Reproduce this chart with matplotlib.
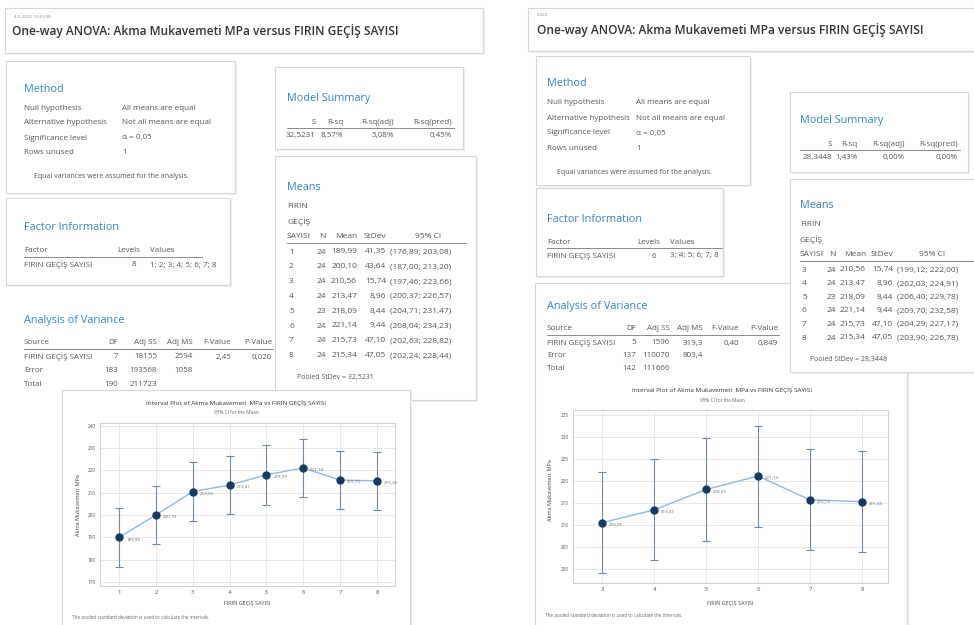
import matplotlib
matplotlib.use('Agg')
import matplotlib.pyplot as plt
from matplotlib.patches import Rectangle

# ---------------- data ----------------
# Left output (levels 1..8)
levels_a = ['1', '2', '3', '4', '5', '6', '7', '8']
n_a = [24, 24, 24, 24, 23, 24, 24, 24]
means_a = [189.99, 200.10, 210.56, 213.47, 218.09, 221.14, 215.73, 215.34]
stdev_a = [41.35, 43.64, 15.74, 8.96, 8.44, 9.44, 47.10, 47.05]
ci_low_a = [176.89, 187.00, 197.46, 200.37, 204.71, 208.04, 202.63, 202.24]
ci_high_a = [203.08, 213.20, 223.66, 226.57, 231.47, 234.23, 228.82, 228.44]
yticks_a = [170, 180, 190, 200, 210, 220, 230, 240]
model_a = ['32,5231', '8,57%', '5,08%', '0,45%']
anova_a = [['FIRIN GEÇİŞ SAYISI', '7', '18155', '2594', '2,45', '0,020'],
           ['Error', '183', '193568', '1058', '', ''],
           ['Total', '190', '211723', '', '', '']]
factor_a = ['FIRIN GEÇİŞ SAYISI', '8', '1; 2; 3; 4; 5; 6; 7; 8']
pooled_a = '32,5231'

# Right output (levels 3..8)
levels_b = ['3', '4', '5', '6', '7', '8']
n_b = [24, 24, 23, 24, 24, 24]
means_b = [210.56, 213.47, 218.09, 221.14, 215.73, 215.34]
stdev_b = [15.74, 8.96, 8.44, 9.44, 47.10, 47.05]
ci_low_b = [199.12, 202.03, 206.40, 209.70, 204.29, 203.90]
ci_high_b = [222.00, 224.91, 229.78, 232.58, 227.17, 226.78]
yticks_b = [200, 205, 210, 215, 220, 225, 230, 235]
model_b = ['28,3448', '1,43%', '0,00%', '0,00%']
anova_b = [['FIRIN GEÇİŞ SAYISI', '5', '1596', '319,3', '0,40', '0,849'],
           ['Error', '137', '110070', '803,4', '', ''],
           ['Total', '142', '111666', '', '', '']]
factor_b = ['FIRIN GEÇİŞ SAYISI', '6', '3; 4; 5; 6; 7; 8']
pooled_b = '28,3448'

TITLE = 'One-way ANOVA: Akma Mukavemeti MPa versus FIRIN GEÇİŞ SAYISI'
PLOT_TITLE = 'Interval Plot of Akma Mukavemeti  MPa vs FIRIN GEÇİŞ SAYISI'

# ---------------- layout helpers ----------------
W, H = 974, 625
fig = plt.figure(figsize=(W / 100, H / 100), dpi=100)
fig.patch.set_facecolor('white')
bg = fig.add_axes([0, 0, 1, 1])
bg.set_xlim(0, W)
bg.set_ylim(H, 0)
bg.axis('off')

FONT = ['Open Sans', 'DejaVu Sans']
TXT = '#555555'
BLUE = '#2f86c6'
FS = 5.8


def box(x0, y0, x1, y1, z=1, edge='#d6d6d6'):
    bg.add_patch(Rectangle((x0 + 2, y0 + 2), x1 - x0, y1 - y0, fc='#f1f1f1', ec='none', zorder=z - 0.5))
    bg.add_patch(Rectangle((x0, y0), x1 - x0, y1 - y0, fc='white', ec=edge, lw=0.8, zorder=z))


def t(x, y, s, size=FS, color=TXT, ha='left', weight='normal', z=10):
    bg.text(x, y, s, fontsize=size, color=color, ha=ha, va='center',
            fontweight=weight, family=FONT, zorder=z)


def hline(x0, x1, y, z=10):
    bg.plot([x0, x1], [y, y], color='#777777', lw=0.6, zorder=z)


def method_block(x, y, valx):
    t(x, y, 'Method', 7.8, BLUE)
    rows = [('Null hypothesis', 'All means are equal'),
            ('Alternative hypothesis', 'Not all means are equal'),
            ('Significance level', 'α = 0,05'),
            ('Rows unused', '1')]
    for i, (a, b) in enumerate(rows):
        yy = y + 19 + i * 15
        t(x, yy, a)
        t(valx, yy, b)
    t(x + 10, y + 88, 'Equal variances were assumed for the analysis.', 5.0)


def model_block(x, y, vals, cols):
    t(x, y, 'Model Summary', 7.8, BLUE)
    heads = ['S', 'R-sq', 'R-sq(adj)', 'R-sq(pred)']
    for h, v, c in zip(heads, vals, cols):
        t(c, y + 24, h, ha='right')
        t(c, y + 37, v, ha='right')
    hline(x, cols[-1] + 2, y + 30)


def factor_block(x, y, vals, c_lev, c_val):
    t(x, y, 'Factor Information', 7.8, BLUE)
    t(x, y + 23, 'Factor')
    t(c_lev, y + 23, 'Levels', ha='right')
    t(c_val, y + 23, 'Values')
    hline(x, c_val + 52, y + 29)
    t(x, y + 37, vals[0])
    t(c_lev - 4, y + 37, vals[1], ha='right')
    t(c_val, y + 37, vals[2])


def anova_block(x, y, rows, cols, step=14):
    t(x, y, 'Analysis of Variance', 7.8, BLUE)
    heads = ['Source', 'DF', 'Adj SS', 'Adj MS', 'F-Value', 'P-Value']
    t(x, y + 23, heads[0])
    for h, c in zip(heads[1:], cols):
        t(c, y + 23, h, ha='right')
    hline(x, cols[-1] + 1, y + 29)
    for i, r in enumerate(rows):
        yy = y + 37 + i * step
        t(x, yy, r[0])
        for v, c in zip(r[1:], cols):
            t(c, yy, v, ha='right')


def fmt(v):
    return f'{v:.2f}'.replace('.', ',')


def means_block(x, y, levels, ns, means, sds, lo, hi, cols, step, pooled, pooled_y, size=6.0):
    t(x, y, 'Means', 7.8, BLUE)
    t(x, y + 19, 'FIRIN', size)
    t(x, y + 34, 'GEÇİŞ', size)
    hy = y + 49
    t(x, hy, 'SAYISI', size)
    t(cols[0], hy, 'N', size, ha='right')
    t(cols[1], hy, 'Mean', size, ha='right')
    t(cols[2], hy, 'StDev', size, ha='right')
    t(cols[4], hy, '95% CI', size, ha='center')
    hline(x, cols[3] + 76, hy + 6)
    for i in range(len(levels)):
        yy = hy + 15 + i * step
        t(x + 2, yy, levels[i], size)
        t(cols[0], yy, str(ns[i]), size, ha='right')
        t(cols[1], yy, fmt(means[i]), size, ha='right')
        t(cols[2], yy, fmt(sds[i]), size, ha='right')
        t(cols[3], yy, '(' + fmt(lo[i]) + '; ' + fmt(hi[i]) + ')', size)
    t(x + 10, pooled_y, 'Pooled StDev = ' + pooled, 5.0)


def interval_plot(px0, py0, px1, py1, levels, means, lo, hi, yticks, xlim, ylim):
    ax = fig.add_axes([px0 / W, 1 - py1 / H, (px1 - px0) / W, (py1 - py0) / H])
    xs = [int(v) for v in levels]
    ax.plot(xs, means, color='#8dbbe3', lw=1.0, zorder=2)
    yerr = [[m - l for m, l in zip(means, lo)], [h - m for m, h in zip(means, hi)]]
    ax.errorbar(xs, means, yerr=yerr, fmt='none', ecolor='#6f8aa6', elinewidth=0.8,
                capsize=3, capthick=0.8, zorder=3)
    ax.plot(xs, means, 'o', color='#173a63', ms=5, zorder=4)
    for xv, m in zip(xs, means):
        ax.annotate(fmt(m), (xv, m), xytext=(5, -1), textcoords='offset points',
                    fontsize=3.2, color='#666666', va='center', family=FONT)
    ax.set_xlim(*xlim)
    ax.set_ylim(*ylim)
    ax.set_xticks(xs)
    ax.set_xticklabels(levels)
    ax.set_yticks(yticks)
    ax.grid(True, color='#e4e4e4', lw=0.6)
    ax.set_axisbelow(True)
    for sp in ax.spines.values():
        sp.set_color('#cfcfcf')
        sp.set_linewidth(0.7)
    ax.tick_params(axis='both', length=0, colors='#555555', labelsize=3.4, pad=3)
    for lab in ax.get_xticklabels() + ax.get_yticklabels():
        lab.set_family(FONT)
    ax.tick_params(axis='x', labelsize=4.2)
    return ax


# ================= LEFT OUTPUT =================
box(5, 8, 483, 53)
t(14, 17, '4-5-2022 12:41:08 ', 3.2, '#888888')
t(12, 31, TITLE, 8.6, '#333333', weight='semibold')

box(6, 61, 235, 193)
method_block(24, 89, 122)

box(275, 67, 463, 149)
model_block(287, 98, model_a, [316, 343, 394, 452])

box(275, 156, 476, 400, z=1)
means_block(287, 188, levels_a, n_a, means_a, stdev_a, ci_low_a, ci_high_a,
            [326, 357, 386, 390, 428], 14.8, pooled_a, 377)

box(6, 198, 230, 285)
factor_block(24, 228, factor_a, 140, 150)

anova_block(24, 320, anova_a, [118, 157, 193, 231, 272])

box(62, 390, 410, 630, z=2)
t(236, 403, PLOT_TITLE, 4.6, '#333333', ha='center', z=12)
t(236, 412, '95% CI for the Mean', 3.4, '#666666', ha='center', z=12)
interval_plot(100, 423, 395, 586, levels_a, means_a, ci_low_a, ci_high_a, yticks_a,
              (0.48, 8.49), (168.2, 241.3))
t(247, 603, 'FIRIN GEÇİŞ SAYISI', 4.0, '#444444', ha='center', z=12)
bg.text(78, 505, 'Akma Mukavemeti  MPa', fontsize=4.0, color='#444444', rotation=90,
        ha='center', va='center', family=FONT, zorder=12)
t(72, 617, 'The pooled standard deviation is used to calculate the intervals.', 3.3, '#666666', z=12)

# ================= RIGHT OUTPUT =================
box(528, 8, 980, 51)
t(537, 15, '2022 ', 3.2, '#888888')
t(537, 30, TITLE, 8.6, '#333333', weight='semibold')

box(536, 56, 750, 185)
method_block(547, 84, 636)

box(790, 92, 968, 172)
model_block(800, 120, model_b, [832, 858, 905, 958])

box(535, 283, 907, 630, z=1)
box(790, 179, 980, 372, z=2)
means_block(800, 206, levels_b, n_b, means_b, stdev_b, ci_low_b, ci_high_b,
            [836, 866, 893, 897, 932], 13.6, pooled_b, 360)

box(536, 188, 723, 276, z=3)
factor_block(547, 219, factor_b, 660, 670)

anova_block(547, 306, anova_b, [636, 670, 703, 739, 778], step=12.8)

t(722, 390, PLOT_TITLE, 4.6, '#333333', ha='center', z=12)
t(722, 400, '95% CI for the Mean', 3.4, '#666666', ha='center', z=12)
interval_plot(573, 410, 888, 583, levels_b, means_b, ci_low_b, ci_high_b, yticks_b,
              (2.44, 8.5), (196.9, 236.1))
t(730, 603, 'FIRIN GEÇİŞ SAYISI', 4.0, '#444444', ha='center', z=12)
bg.text(550, 490, 'Akma Mukavemeti  MPa', fontsize=4.0, color='#444444', rotation=90,
        ha='center', va='center', family=FONT, zorder=12)
t(545, 616, 'The pooled standard deviation is used to calculate the intervals.', 3.3, '#666666', z=12)

fig.savefig('out.png', dpi=100, facecolor='white')
